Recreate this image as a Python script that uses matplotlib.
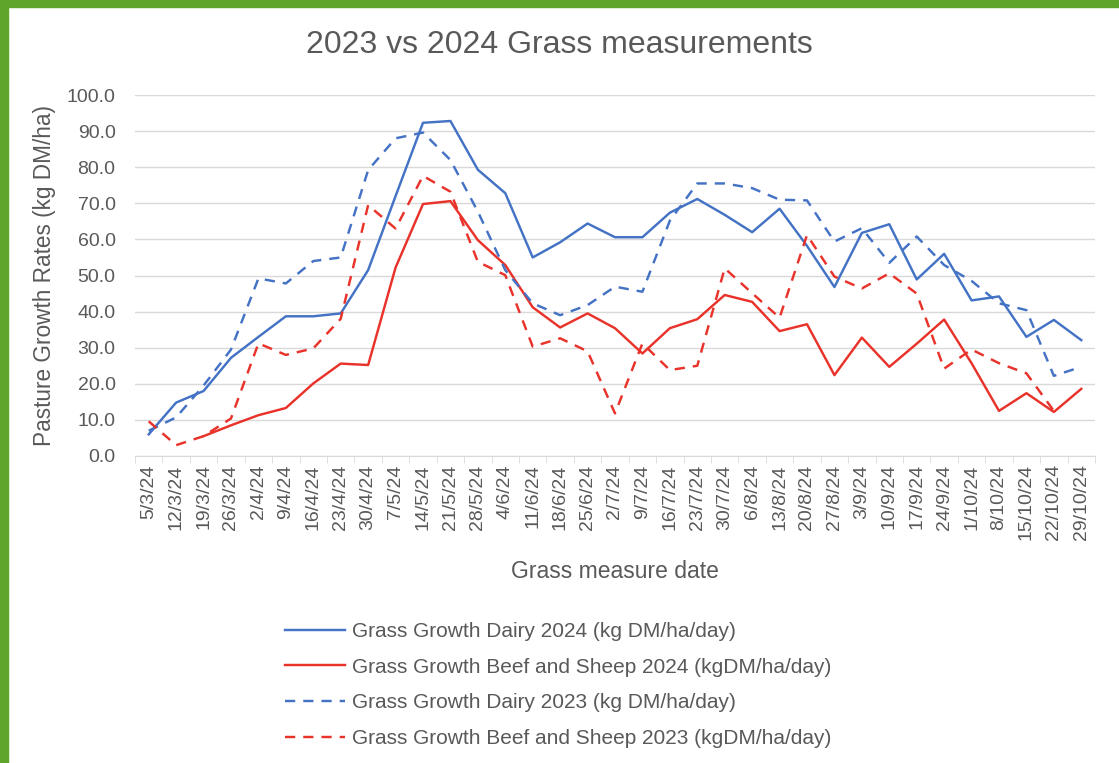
import numpy as np
import matplotlib
matplotlib.use('Agg')
import matplotlib.pyplot as plt
from matplotlib.lines import Line2D
from matplotlib.patches import Rectangle

plt.rcParams['font.family'] = ['Liberation Sans', 'DejaVu Sans']

dates = ['5/3/24', '12/3/24', '19/3/24', '26/3/24', '2/4/24', '9/4/24', '16/4/24',
         '23/4/24', '30/4/24', '7/5/24', '14/5/24', '21/5/24', '28/5/24', '4/6/24',
         '11/6/24', '18/6/24', '25/6/24', '2/7/24', '9/7/24', '16/7/24', '23/7/24',
         '30/7/24', '6/8/24', '13/8/24', '20/8/24', '27/8/24', '3/9/24', '10/9/24',
         '17/9/24', '24/9/24', '1/10/24', '8/10/24', '15/10/24', '22/10/24', '29/10/24']

dairy_2024 = [6.0, 14.8, 18.0, 27.2, 33.0, 38.7, 38.7, 39.5, 51.5, 72.0, 92.3, 92.8,
              79.3, 72.8, 55.0, 59.2, 64.4, 60.6, 60.6, 67.4, 71.2, 66.8, 62.0, 68.5,
              58.2, 46.8, 61.8, 64.2, 48.9, 56.0, 43.1, 44.2, 33.0, 37.7, 32.1]

beef_2024 = [np.nan, np.nan, 5.5, 8.5, 11.3, 13.3, 20.1, 25.6, 25.2, 52.2, 69.8, 70.6,
             59.8, 52.9, 41.2, 35.6, 39.5, 35.4, 28.4, 35.4, 37.9, 44.6, 42.7, 34.6,
             36.5, 22.4, 32.8, 24.7, 31.1, 37.8, 25.7, 12.5, 17.4, 12.2, 18.6]

dairy_2023 = [7.0, 10.7, 19.5, 29.5, 49.2, 47.8, 54.0, 55.0, 79.2, 88.0, 89.6, 82.0,
              67.7, 51.5, 42.3, 39.0, 41.8, 46.9, 45.5, 65.2, 75.5, 75.5, 74.2, 71.0,
              70.8, 59.4, 63.1, 53.5, 60.8, 52.9, 48.5, 42.3, 40.4, 22.2, 24.7]

beef_2023 = [9.6, 3.0, 5.5, 10.4, 31.2, 28.0, 29.8, 38.0, 69.5, 63.0, 77.6, 73.2,
             53.8, 50.1, 30.3, 32.6, 29.0, 11.8, 31.2, 23.8, 25.0, 52.0, 45.1, 38.3,
             61.2, 49.7, 46.4, 50.6, 45.0, 24.2, 29.5, 25.7, 22.9, 12.5, np.nan]

labels = ['Grass Growth Dairy 2024 (kg DM/ha/day)',
          'Grass Growth Beef and Sheep 2024 (kgDM/ha/day)',
          'Grass Growth Dairy 2023 (kg DM/ha/day)',
          'Grass Growth Beef and Sheep 2023 (kgDM/ha/day)']

blue = '#4472C4'
red = '#E8322A'
grey = '#595959'
dash = (0, (4.2, 3.3))

fig = plt.figure(figsize=(11.19, 7.63), dpi=100)
fig.patch.set_facecolor('white')

# green frame on the top and left edges
fig.patches.append(Rectangle((0, 1 - 7 / 763), 1, 7 / 763, transform=fig.transFigure,
                             color='#5FA52A', zorder=0))
fig.patches.append(Rectangle((0, 0), 8 / 1119, 1, transform=fig.transFigure,
                             color='#5FA52A', zorder=0))

ax = fig.add_axes([135 / 1119, 1 - 456 / 763, 960 / 1119, 361 / 763])

x = np.arange(len(dates))
ax.plot(x, dairy_2024, color=blue, lw=1.75, label=labels[0])
ax.plot(x, beef_2024, color=red, lw=1.75, label=labels[1])
ax.plot(x, dairy_2023, color=blue, lw=1.75, ls=dash, label=labels[2])
ax.plot(x, beef_2023, color=red, lw=1.75, ls=dash, label=labels[3])

ax.set_xlim(-0.5, len(dates) - 0.5)
ax.set_ylim(0, 100)
ax.set_yticks(np.arange(0, 101, 10))
ax.set_yticklabels([f'{v:.1f}' for v in np.arange(0, 101, 10)])
ax.set_xticks(x)
ax.set_xticklabels(dates, rotation=90)
ax.set_xticks(np.arange(-0.5, len(dates), 1), minor=True)

ax.grid(axis='y', color='#D9D9D9', lw=1)
ax.set_axisbelow(True)
for s in ['top', 'right', 'left']:
    ax.spines[s].set_visible(False)
ax.spines['bottom'].set_color('#D9D9D9')
ax.tick_params(axis='y', length=0, labelsize=14, labelcolor=grey, pad=14)
ax.tick_params(axis='x', which='major', length=0, labelsize=14, labelcolor=grey, pad=6)
ax.tick_params(axis='x', which='minor', length=5, color='#D9D9D9')

ax.set_ylabel('Pasture Growth Rates (kg DM/ha)', fontsize=16.3, color=grey, labelpad=8)
ax.set_xlabel('Grass measure date', fontsize=16.5, color=grey, labelpad=14)
fig.text(0.5, 1 - 45 / 763, '2023 vs 2024 Grass measurements', fontsize=23,
         color=grey, ha='center', va='center')

handles = [Line2D([], [], color=blue, lw=1.75),
           Line2D([], [], color=red, lw=1.75),
           Line2D([], [], color=blue, lw=1.75, ls=dash),
           Line2D([], [], color=red, lw=1.75, ls=dash)]
leg = fig.legend(handles, labels, loc='upper left', bbox_to_anchor=(285 / 1119, 1 - 622 / 763),
                 frameon=False, fontsize=15, handlelength=2.9, handletextpad=0.33,
                 labelspacing=0.8, borderpad=0, borderaxespad=0)
for t in leg.get_texts():
    t.set_color(grey)

fig.savefig('out.png', dpi=100, facecolor='white')
